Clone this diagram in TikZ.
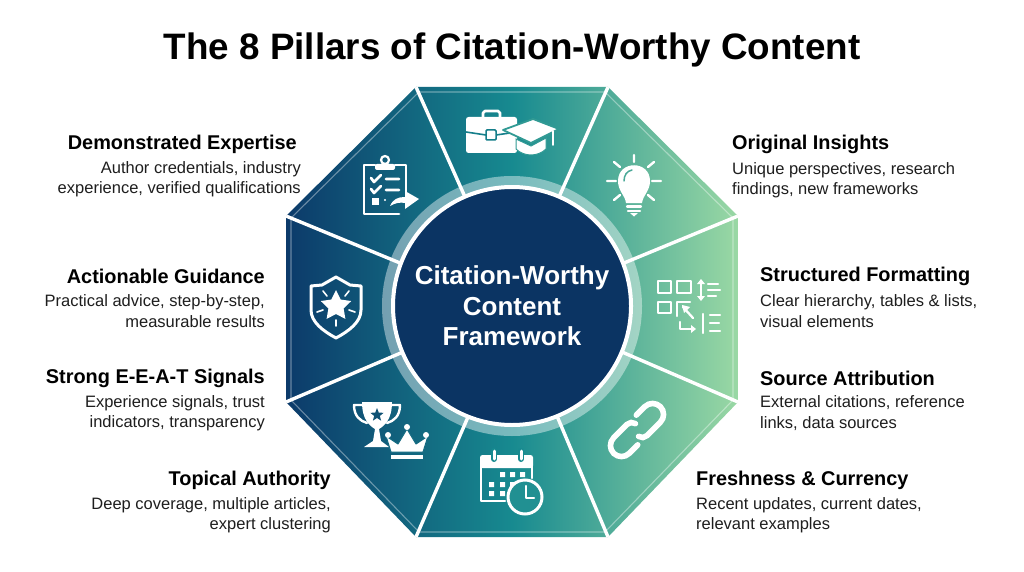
\documentclass[tikz,border=0pt]{standalone}
\usepackage{fontspec}
\setmainfont{Liberation Sans}
\definecolor{gA}{HTML}{0C3A6A}
\definecolor{gB}{HTML}{178A90}
\definecolor{gC}{HTML}{9AD8A4}
\definecolor{navy}{HTML}{0B3463}
\definecolor{txt}{HTML}{1E1E1E}
\tikzset{
  ttl/.style={font=\fontsize{19.9}{24}\selectfont\bfseries,text=black,inner sep=0pt},
  dsc/.style={font=\fontsize{16.5}{20.3}\selectfont,text=txt,inner sep=0pt},
  lt/.style={anchor=west,align=left},
  rt/.style={anchor=east,align=right},
  sep/.style={draw=white,line width=3.4pt},
  ic/.style={draw=white,line width=2.7pt,line cap=round,line join=round},
  icf/.style={fill=white,draw=none},
}
\newcommand{\starshape}[4]{\fill[#4] plot[samples at={0,1,...,9}] ({-90+36*\x}:{ifthenelse(mod(\x,2)==0,#2,#3)}) -- cycle;}
\begin{document}
\begin{tikzpicture}[x=1pt,y=-1pt]
\useasboundingbox (0,0) rectangle (1024,572);
\fill[white] (0,0) rectangle (1024,572);
% octagon vertices
\coordinate (v1) at (416,87); \coordinate (v2) at (608,87);
\coordinate (v3) at (738,216); \coordinate (v4) at (738,402);
\coordinate (v5) at (608,537); \coordinate (v6) at (416,537);
\coordinate (v7) at (286,402); \coordinate (v8) at (286,216);
\coordinate (c) at (512,306);
\shade[left color=gA,right color=gC,middle color=gB]
  (v1)--(v2)--(v3)--(v4)--(v5)--(v6)--(v7)--(v8)--cycle;
% inner pale rim
\draw[white,opacity=.38,line width=1.1pt] (419,92)--(605,92)--(733,218)--(733,400)--(605,532)--(419,532)--(291,400)--(291,218)--cycle;
% ring
\fill[white,opacity=.42] (c) circle (130);
% separators
\coordinate (s1) at (465,197); \coordinate (s2) at (559,197);
\coordinate (s3) at (400,263); \coordinate (s4) at (624,263);
\coordinate (s5) at (403,352); \coordinate (s6) at (622,352);
\coordinate (s7) at (468,417); \coordinate (s8) at (557,416);
\draw[sep] (v1)--(s1); \draw[sep] (v2)--(s2); \draw[sep] (v8)--(s3); \draw[sep] (v3)--(s4);
\draw[sep] (v7)--(s5); \draw[sep] (v4)--(s6); \draw[sep] (v6)--(s7); \draw[sep] (v5)--(s8);
% centre
\fill[navy,draw=white,line width=4pt] (c) circle (119);
\node[font=\fontsize{26}{30.5}\selectfont\bfseries,text=white,align=center,inner sep=0pt] (centre) at (512,306) {Citation-Worthy\\Content\\Framework};
% title
\node[font=\fontsize{36.8}{40}\selectfont\bfseries,text=black,inner sep=0pt] (title) at (512,50) {The 8 Pillars of Citation-Worthy Content};
% labels left
\node[ttl,rt] (t1) at (297,144.5) {Demonstrated Expertise};
\node[dsc,rt] (d1) at (301,179.5) {Author credentials, industry\\experience, verified qualifications};
\node[ttl,rt] (t2) at (265,276) {Actionable Guidance};
\node[dsc,rt] (d2) at (265,311) {Practical advice, step-by-step,\\measurable results};
\node[ttl,rt] (t3) at (265,378) {Strong E-E-A-T Signals};
\node[dsc,rt] (d3) at (265,413) {Experience signals, trust\\indicators, transparency};
\node[ttl,rt] (t4) at (331,480) {Topical Authority};
\node[dsc,rt] (d4) at (331,515) {Deep coverage, multiple articles,\\expert clustering};
% labels right
\node[ttl,lt] (t5) at (732,144.5) {Original Insights};
\node[dsc,lt] (d5) at (732,180) {Unique perspectives, research\\findings, new frameworks};
\node[ttl,lt] (t6) at (760,276) {Structured Formatting};
\node[dsc,lt] (d6) at (760,311) {Clear hierarchy, tables \& lists,\\visual elements};
\node[ttl,lt] (t7) at (760,378) {Source Attribution};
\node[dsc,lt] (d7) at (760,413) {External citations, reference\\links, data sources};
\node[ttl,lt] (t8) at (696,480) {Freshness \& Currency};
\node[dsc,lt] (d8) at (696,515) {Recent updates, current dates,\\relevant examples};
% --- briefcase + cap
\draw[ic] (483,117) -- (483,113) -- (485,111) -- (498,111) -- (500,113) -- (500,117);
\fill[white,rounded corners=2.5pt] (466,117) rectangle (517,153);
\draw[color=gB!85!gA,line width=1.6pt] (466,132) -- (486,135) (496,135) -- (517,132);
\fill[white,draw=gB!85!gA,line width=1.5pt,rounded corners=1pt] (486,130) rectangle (496,140);
\fill[white,draw=gB!80!gC,line width=1.8pt,line join=round] (503,130) -- (533,119) -- (559,129) -- (531,143) -- cycle;
\fill[white,draw=gB!80!gC,line width=1pt] (516,139) -- (531,146) -- (546,138) -- (546,149) .. controls (538,157) and (524,157) .. (516,149) -- cycle;
\draw[ic,line width=1.8pt] (553,131) -- (553,145);
% --- clipboard
\draw[ic] (375,165) -- (364,165) -- (364,214) -- (399,214);
\draw[ic] (395,165) -- (406,165) -- (406,197);
\fill[white,rounded corners=2pt] (375,164) rectangle (395,170);
\draw[ic,line width=2.2pt] (385,160) circle (4);
\draw[ic] (371,178) -- (374,182) -- (381,175) (386,179) -- (399,179);
\draw[ic] (371,189) -- (374,193) -- (381,186) (386,190) -- (399,190);
\fill[white] (372,198) rectangle (379,205);
\fill[white] (385,200) circle (1.2);
\fill[white] (390,206) .. controls (393,199) and (398,197) .. (405,197) -- (405,191) -- (419,199) -- (405,209) -- (405,203) .. controls (400,202) and (395,203) .. (390,206) -- cycle;
% --- bulb
\draw[ic,line width=2.4pt] (634,155) -- (634,162) (614,162) -- (620,167) (654,162) -- (648,167) (607,181) -- (616,181) (652,181) -- (661,181) (614,200) -- (620,195) (654,200) -- (648,195);
\fill[white] (626,203) .. controls (625,195) and (618,191) .. (618,181) .. controls (618,160) and (650,160) .. (650,181) .. controls (650,191) and (643,195) .. (642,203) -- cycle;
\draw[color=gB!60!gC,line width=1.5pt,line cap=round] (624,181) .. controls (624,175) and (627,171) .. (632,170);
\draw[ic,line width=2.2pt] (627,206.5) -- (641,206.5) (628,211) -- (640,211);
\fill[white] (630,213) -- (638,213) -- (634,216.5) -- cycle;
% --- structured formatting
\draw[ic,line cap=butt] (658,281) rectangle (671,293) (677,281) rectangle (691,293) (658,302) rectangle (671,313);
\draw[ic,line width=2.3pt] (677,316) -- (677,302) -- (690,302);
\draw[ic,line width=2.3pt] (683,307) -- (693,318);
\fill[white] (682,305) -- (690,307) -- (684,313) -- cycle;
\draw[ic,line width=2.3pt] (680,322) -- (680,329) -- (693,329);
\fill[white] (691,325) -- (696,329) -- (691,333) -- cycle;
\draw[ic,line width=2.3pt] (701,282) -- (701,298);
\fill[white] (697,284) -- (701,279) -- (705,284) -- cycle (697,296) -- (701,301) -- (705,296) -- cycle;
\draw[ic,line width=2.2pt] (708,284) -- (718,284) (708,290) -- (720,290) (708,296) -- (716,296);
\draw[ic,line width=2.2pt] (703,314) -- (703,333) (710,315) -- (720,315) (710,323) -- (719,323) (710,331) -- (720,331);
% --- link
\begin{scope}[shift={(637,430)},rotate=45]
\draw[white,line width=5.6pt,line cap=round] (10,-11) -- (22,-11) arc (-90:90:11) -- (3,11) arc (90:170:6.5);
\draw[white,line width=5.6pt,line cap=round] (-10,11) -- (-22,11) arc (90:270:11) -- (-3,-11) arc (270:350:6.5);
\end{scope}
% --- calendar and clock
\draw[ic] (481,466) -- (481,501) -- (505,501);
\draw[ic] (532,466) -- (532,478);
\fill[white,rounded corners=2.5pt] (480,455) rectangle (533,468);
\draw[gB,line width=6pt,line cap=round] (494,451) -- (494,459) (521,451) -- (521,459);
\draw[white,line width=3pt,line cap=round] (494,451) -- (494,459) (521,451) -- (521,459);
\fill[white] (500,472) rectangle (505,477) (510,472) rectangle (515,477) (520,472) rectangle (525,477)
  (489,482) rectangle (494,487) (500,482) rectangle (505,487) (510,482) rectangle (515,487)
  (489,491) rectangle (494,496) (500,491) rectangle (505,496);
\fill[gB!92!gC,draw=white,line width=3pt] (525,497) circle (17);
\draw[ic,line width=2.4pt] (526,486) -- (526,498) -- (534,498);
% --- shield
\draw[white,line width=3pt,line join=round] (336,277) -- (350,285) -- (361,286) -- (361,310) .. controls (361,322) and (349,331) .. (336,338) .. controls (323,331) and (311,322) .. (311,310) -- (311,286) -- (322,285) -- cycle;
\begin{scope}[shift={(336,306)}]\starshape{0}{16}{8}{white}\end{scope}
\draw[white,line width=1.6pt,line cap=round] (323,291) -- (327,296) (349,291) -- (345,296) (317,312) -- (323,310) (355,312) -- (349,310) (336,320) -- (336,326);
% --- trophy and crown
\fill[white] (362,402) -- (392,402) .. controls (392,420) and (384,426) .. (379,429) -- (381,441) -- (389,447) -- (364,447) -- (373,441) -- (375,429) .. controls (370,426) and (362,420) .. (362,402) -- cycle;
\draw[ic,line width=2.4pt] (362,405) -- (354,405) .. controls (354,416) and (360,421) .. (367,423);
\draw[ic,line width=2.4pt] (392,405) -- (400,405) .. controls (400,416) and (394,421) .. (387,423);
\begin{scope}[shift={(377,415)}]\starshape{0}{7}{3}{gA!70!gB}\end{scope}
\fill[white,draw=gA!40!gB,line width=1pt,line join=round] (391,452) -- (386,436) -- (398,444) -- (407,429) -- (416,444) -- (428,436) -- (423,452) -- cycle;
\fill[white] (388,435) circle (3) (407,427) circle (3) (426,435) circle (3);
\fill[white] (391,455) rectangle (423,459);
\end{tikzpicture}
\end{document}
